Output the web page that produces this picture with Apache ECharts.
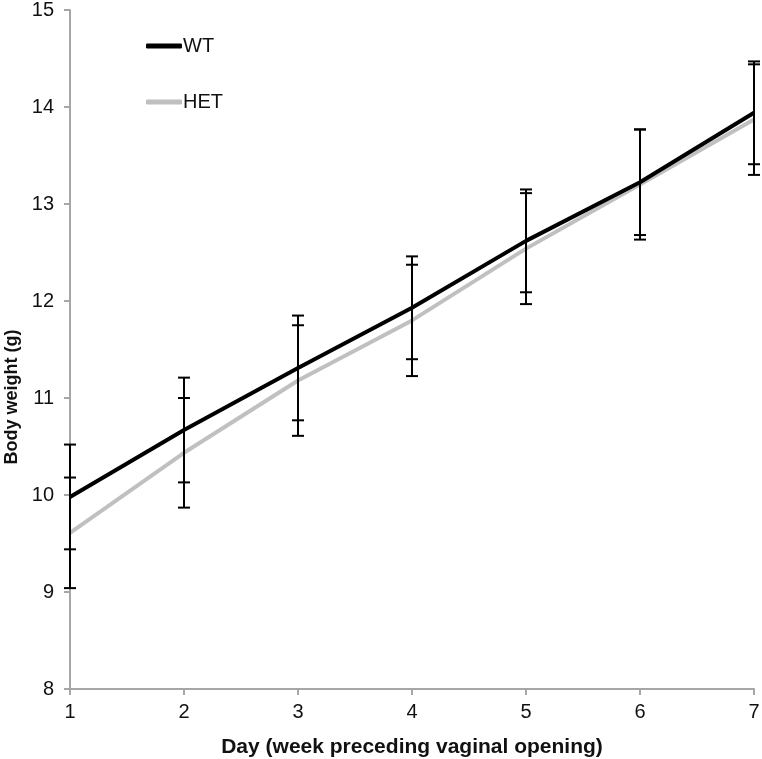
<!DOCTYPE html>
<html>
<head>
<meta charset="utf-8">
<script src="https://cdn.jsdelivr.net/npm/echarts@6/dist/echarts.min.js"></script>
<style>
html,body{margin:0;padding:0;background:#fff;}
#chart{width:762px;height:759px;}
</style>
</head>
<body>
<div id="chart"></div>
<script>
var days = [1, 2, 3, 4, 5, 6, 7];
var wtMean = [9.98, 10.67, 11.31, 11.93, 12.62, 13.225, 13.94];
var wtSD = [0.54, 0.54, 0.54, 0.53, 0.53, 0.545, 0.53];
var hetMean = [9.61, 10.435, 11.18, 11.80, 12.54, 13.20, 13.87];
var hetSD = [0.57, 0.565, 0.57, 0.574, 0.572, 0.567, 0.57];
var yTicks = [8, 9, 10, 11, 12, 13, 14, 15];

function pairs(xs, ys) { return xs.map(function (x, i) { return [x, ys[i]]; }); }
function errData(xs, m, sd) { return xs.map(function (x, i) { return [x, m[i], sd[i]]; }); }

function renderErr(params, api) {
  var x = api.value(0), m = api.value(1), s = api.value(2);
  var hi = api.coord([x, m + s]);
  var lo = api.coord([x, m - s]);
  var cw = 6;
  var st = { stroke: '#000', lineWidth: 2 };
  return {
    type: 'group',
    children: [
      { type: 'line', shape: { x1: hi[0], y1: hi[1], x2: lo[0], y2: lo[1] }, style: st },
      { type: 'line', shape: { x1: hi[0] - cw, y1: hi[1], x2: hi[0] + cw, y2: hi[1] }, style: st },
      { type: 'line', shape: { x1: lo[0] - cw, y1: lo[1], x2: lo[0] + cw, y2: lo[1] }, style: st }
    ]
  };
}

var chart = echarts.init(document.getElementById('chart'));
var axisGray = '#a6a6a6';
chart.setOption({
  animation: false,
  backgroundColor: '#fff',
  textStyle: { fontFamily: 'Liberation Sans, Arial, sans-serif' },
  grid: { left: 70, right: 8, top: 10, bottom: 70, containLabel: false, outerBoundsMode: 'none' },
  legend: {
    orient: 'vertical',
    left: 141, top: 31,
    itemWidth: 36, itemHeight: 5, itemGap: 36,
    icon: 'roundRect',
    textStyle: { fontSize: 20, color: '#111', padding: [0, 0, 0, -4] },
    data: ['WT', 'HET']
  },
  xAxis: {
    type: 'value', min: 1, max: 7, interval: 1,
    name: 'Day (week preceding vaginal opening)',
    nameLocation: 'middle', nameGap: 48,
    nameTextStyle: { fontSize: 21, fontWeight: 'bold', color: '#111' },
    axisLine: { lineStyle: { color: axisGray, width: 2 } },
    axisTick: { show: true, length: 6, lineStyle: { color: axisGray, width: 2 } },
    axisLabel: { fontSize: 20, color: '#111', margin: 13 },
    splitLine: { show: false }
  },
  yAxis: {
    type: 'value', min: yTicks[0], max: yTicks[yTicks.length - 1], interval: 1,
    axisLine: { show: true, lineStyle: { color: axisGray, width: 2 } },
    axisTick: { show: true, length: 6, lineStyle: { color: axisGray, width: 2 } },
    axisLabel: { fontSize: 20, color: '#111', margin: 16 },
    splitLine: { show: false }
  },
  graphic: [{
    type: 'text', x: 12, y: 397, rotation: Math.PI / 2,
    style: { text: 'Body weight (g)', fontSize: 18, fontWeight: 'bold', fill: '#111',
      fontFamily: 'Liberation Sans, Arial, sans-serif', textAlign: 'center', textVerticalAlign: 'middle' }
  }],
  series: [
    { name: 'HET', type: 'line', data: pairs(days, hetMean), showSymbol: false, symbol: 'none',
      lineStyle: { color: '#c0c0c0', width: 4 }, itemStyle: { color: '#c0c0c0' }, z: 2 },
    { name: 'WT', type: 'line', data: pairs(days, wtMean), showSymbol: false, symbol: 'none',
      lineStyle: { color: '#000', width: 4 }, itemStyle: { color: '#000' }, z: 3 },
    { type: 'custom', renderItem: renderErr, data: errData(days, wtMean, wtSD), z: 4, clip: false },
    { type: 'custom', renderItem: renderErr, data: errData(days, hetMean, hetSD), z: 4, clip: false }
  ]
});
</script>
</body>
</html>
